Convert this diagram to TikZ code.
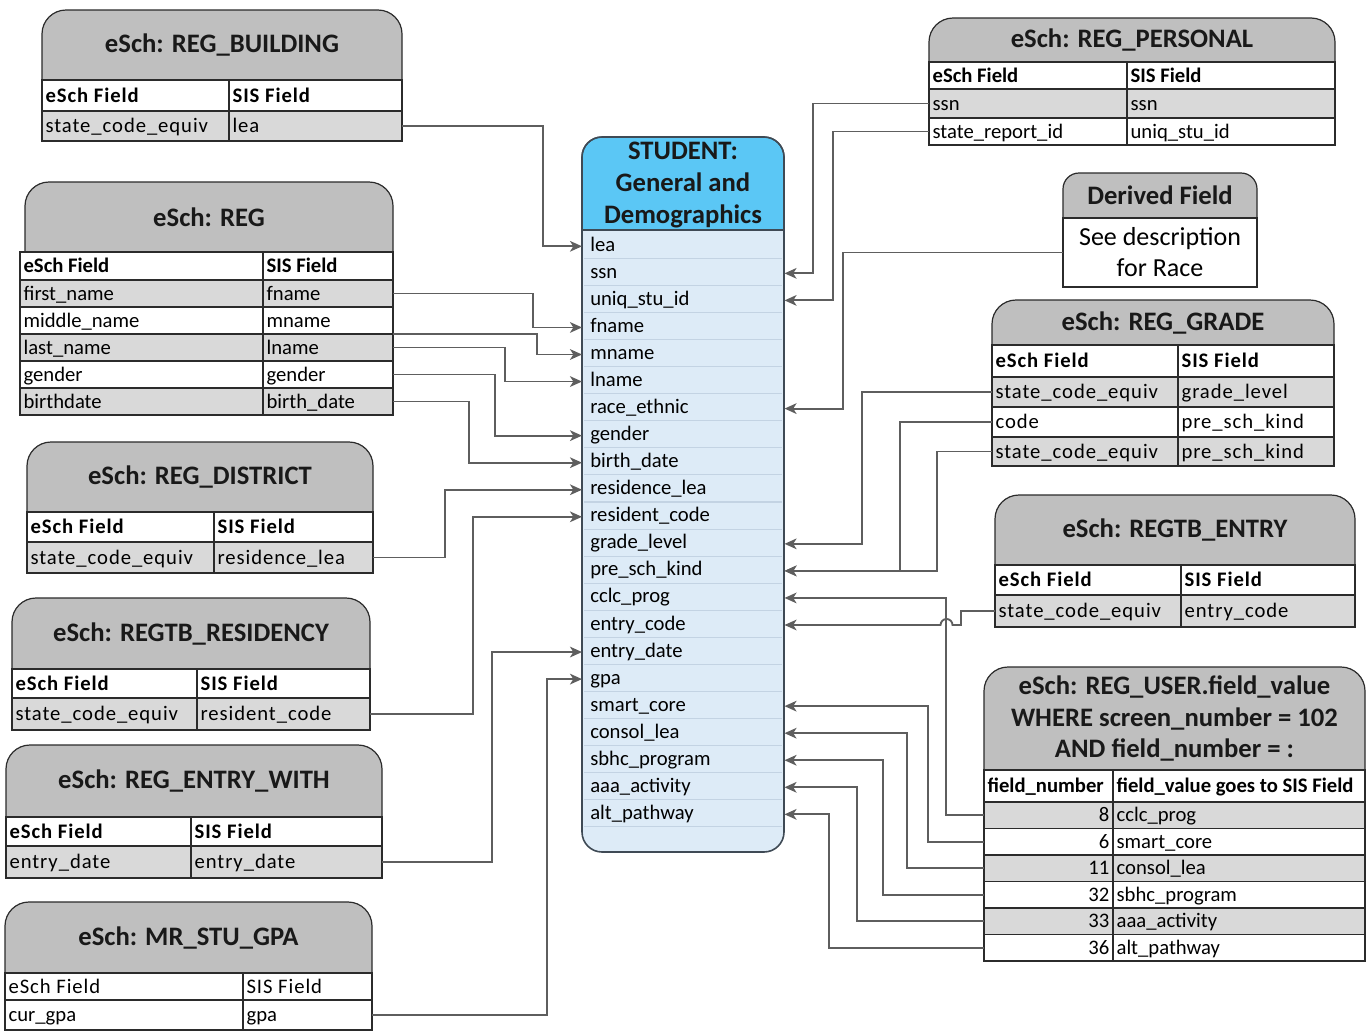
\documentclass[tikz,border=0pt]{standalone}
\usepackage{fontspec}
\setmainfont{Carlito}
\newfontfamily\cellfont{Carlito}[LetterSpace=4.5]
\usetikzlibrary{arrows.meta,calc}
\definecolor{hdrgray}{HTML}{BFBFBF}
\definecolor{rowgray}{HTML}{D9D9D9}
\definecolor{lineblk}{HTML}{2B2B2B}
\definecolor{conngray}{HTML}{5E5E5E}
\definecolor{stuhead}{HTML}{5BC7F5}
\definecolor{stubody}{HTML}{DDEBF7}
\definecolor{stusep}{HTML}{C3D3E3}
\definecolor{stuline}{HTML}{3F4A55}
\tikzset{
  tbox/.style={draw=lineblk, line width=0.9pt, inner sep=0pt, outer sep=0pt},
  ttext/.style={inner sep=0pt, text height=11pt, text depth=3.5pt},
  pn/.style={font=\fontsize{15.5}{18}\selectfont},
  pb/.style={font=\fontsize{15.5}{18}\selectfont\bfseries},
  sn/.style={font=\cellfont\fontsize{15.5}{18}\selectfont},
  sb/.style={font=\cellfont\fontsize{15.5}{18}\selectfont\bfseries},
  hdr/.style={fill=hdrgray, draw=lineblk, line width=0.9pt, rounded corners=18pt},
  htitle/.style={font=\fontsize{20}{23.5}\selectfont\bfseries, align=center, inner sep=0pt, text=black!90},
  conn/.style={draw=conngray, line width=1.4pt, -{Stealth[length=9pt,width=8pt,inset=2.5pt]}},
  rulethick/.style={draw=lineblk, line width=2.2pt},
  rulemid/.style={draw=lineblk, line width=1.6pt},
  fld/.style={anchor=north west, minimum height=20.29pt, text width=139.5pt, inner xsep=6pt, inner ysep=0pt, align=left, font=\fontsize{15.5}{18}\selectfont, text height=11pt, text depth=3.5pt},
}
\newcommand\tcell[8]{%
  \pgfmathsetmacro\cw{(#4-#2)*0.75}%
  \pgfmathsetmacro\ch{(#5-#3)*0.75}%
  \node[tbox, fill=#6, minimum width=\cw pt, minimum height=\ch pt, anchor=north west] (#1) at (#2,#3) {};
  \node[ttext, #7, anchor=west] (#1-t) at ([xshift=2.5pt,yshift=-1.2pt]#1.west) {#8};
}
\newcommand\tcellr[8]{%
  \pgfmathsetmacro\cw{(#4-#2)*0.75}%
  \pgfmathsetmacro\ch{(#5-#3)*0.75}%
  \node[tbox, fill=#6, minimum width=\cw pt, minimum height=\ch pt, anchor=north west] (#1) at (#2,#3) {};
  \node[ttext, #7, anchor=east] (#1-t) at ([xshift=-2.5pt,yshift=-1.2pt]#1.east) {#8};
}
\newcommand\thead[6]{%
  \filldraw[hdr] (#2,#5) -- (#2,#3) -- (#4,#3) -- (#4,#5);
  \node[htitle] (#1) at ({(#2+#4)/2},{(#3+#5)/2}) {#6};
}
\begin{document}
\begin{tikzpicture}[x=0.75pt,y=-0.75pt]
\useasboundingbox (0,0) rectangle (1367,1032);
\fill[white] (0,0) rectangle (1367,1032);

% ---------- STUDENT box ----------
\fill[stubody, rounded corners=15pt] (582,137) rectangle (784,852);
\filldraw[fill=stuhead, draw=stuline, line width=1pt, rounded corners=15pt] (582,230) -- (582,137) -- (784,137) -- (784,230);
\draw[stuline, line width=1pt] (582,230) -- (784,230);
\foreach \k in {1,...,22} \draw[stusep, line width=0.8pt] (584,{231.5+\k*27.05}) -- (782,{231.5+\k*27.05});
\node[htitle, font=\fontsize{20}{24}\selectfont\bfseries] (stu-title) at (683,185) {STUDENT:\\General and\\Demographics};
\foreach \nm/\tx [count=\i from 0] in {lea/lea, ssn/ssn, uniq/uniq\_stu\_id, fname/fname, mname/mname, lname/lname, race/race\_ethnic, gender/gender, birth/birth\_date, resl/residence\_lea, resc/resident\_code, grade/grade\_level, pre/pre\_sch\_kind, cclc/cclc\_prog, ecode/entry\_code, edate/entry\_date, gpa/gpa, smart/smart\_core, consol/consol\_lea, sbhc/sbhc\_program, aaa/aaa\_activity, alt/alt\_pathway}
  \node[fld] (s-\nm) at (582,{232.5+\i*27.05}) {\tx};
\draw[stuline, line width=1.2pt, rounded corners=15pt] (582,137) rectangle (784,852);

% ---------- REG_BUILDING ----------
\thead{bld}{42}{10}{402}{80}{eSch: REG\_BUILDING}
\tcell{bld-h1}{42}{80}{229}{111}{white}{sb}{eSch Field}
\tcell{bld-h2}{229}{80}{402}{111}{white}{sb}{SIS Field}
\tcell{bld-a1}{42}{111}{229}{141}{rowgray}{sn}{state\_code\_equiv}
\tcell{bld-a2}{229}{111}{402}{141}{rowgray}{sn}{lea}
\draw[rulethick] (bld-h1.south west) -- (bld-h2.south east);

% ---------- REG ----------
\thead{reg}{25}{182}{393}{252}{eSch: REG}
\tcell{reg-h1}{20}{252}{263}{280}{white}{pb}{eSch Field}
\tcell{reg-h2}{263}{252}{393}{280}{white}{pb}{SIS Field}
\tcell{reg-f1}{20}{280}{263}{307}{rowgray}{pn}{first\_name}
\tcell{reg-f2}{263}{280}{393}{307}{rowgray}{pn}{fname}
\tcell{reg-m1}{20}{307}{263}{334}{white}{pn}{middle\_name}
\tcell{reg-m2}{263}{307}{393}{334}{white}{pn}{mname}
\tcell{reg-l1}{20}{334}{263}{361}{rowgray}{pn}{last\_name}
\tcell{reg-l2}{263}{334}{393}{361}{rowgray}{pn}{lname}
\tcell{reg-g1}{20}{361}{263}{388}{white}{pn}{gender}
\tcell{reg-g2}{263}{361}{393}{388}{white}{pn}{gender}
\tcell{reg-b1}{20}{388}{263}{415}{rowgray}{pn}{birthdate}
\tcell{reg-b2}{263}{388}{393}{415}{rowgray}{pn}{birth\_date}
\draw[rulethick] (reg-h1.south west) -- (reg-h2.south east);
\draw[rulemid] (reg-l1.north west) -- (reg-l2.north east);

% ---------- REG_DISTRICT ----------
\thead{dst}{27}{442}{373}{512}{eSch: REG\_DISTRICT}
\tcell{dst-h1}{27}{512}{214}{542}{white}{sb}{eSch Field}
\tcell{dst-h2}{214}{512}{373}{542}{white}{sb}{SIS Field}
\tcell{dst-a1}{27}{542}{214}{573}{rowgray}{sn}{state\_code\_equiv}
\tcell{dst-a2}{214}{542}{373}{573}{rowgray}{sn}{residence\_lea}
\draw[rulethick] (dst-h1.south west) -- (dst-h2.south east);

% ---------- REGTB_RESIDENCY ----------
\thead{res}{12}{598}{370}{669}{eSch: REGTB\_RESIDENCY}
\tcell{res-h1}{12}{669}{197}{698}{white}{sb}{eSch Field}
\tcell{res-h2}{197}{669}{370}{698}{white}{sb}{SIS Field}
\tcell{res-a1}{12}{698}{197}{730}{rowgray}{sn}{state\_code\_equiv}
\tcell{res-a2}{197}{698}{370}{730}{rowgray}{sn}{resident\_code}
\draw[rulethick] (res-h1.south west) -- (res-h2.south east);

% ---------- REG_ENTRY_WITH ----------
\thead{ew}{6}{745}{382}{817}{eSch: REG\_ENTRY\_WITH}
\tcell{ew-h1}{6}{817}{191}{846}{white}{sb}{eSch Field}
\tcell{ew-h2}{191}{817}{382}{846}{white}{sb}{SIS Field}
\tcell{ew-a1}{6}{846}{191}{878}{rowgray}{sn}{entry\_date}
\tcell{ew-a2}{191}{846}{382}{878}{rowgray}{sn}{entry\_date}
\draw[rulethick] (ew-h1.south west) -- (ew-h2.south east);

% ---------- MR_STU_GPA ----------
\thead{gp}{5}{902}{372}{973}{eSch: MR\_STU\_GPA}
\tcell{gp-h1}{5}{973}{243}{1000}{white}{sn}{eSch Field}
\tcell{gp-h2}{243}{973}{372}{1000}{white}{sn}{SIS Field}
\tcell{gp-a1}{5}{1000}{243}{1030}{white}{pn}{cur\_gpa}
\tcell{gp-a2}{243}{1000}{372}{1030}{white}{pn}{gpa}

% ---------- REG_PERSONAL ----------
\thead{per}{929}{18}{1335}{62}{eSch: REG\_PERSONAL}
\tcell{per-h1}{929}{62}{1127}{89}{white}{pb}{eSch Field}
\tcell{per-h2}{1127}{62}{1335}{89}{white}{pb}{SIS Field}
\tcell{per-a1}{929}{89}{1127}{118}{rowgray}{pn}{ssn}
\tcell{per-a2}{1127}{89}{1335}{118}{rowgray}{pn}{ssn}
\tcell{per-b1}{929}{118}{1127}{145}{white}{pn}{state\_report\_id}
\tcell{per-b2}{1127}{118}{1335}{145}{white}{pn}{uniq\_stu\_id}
\draw[rulethick] (per-h1.south west) -- (per-h2.south east);

% ---------- Derived Field ----------
\filldraw[fill=hdrgray, draw=lineblk, line width=0.9pt, rounded corners=12pt] (1063,218) -- (1063,173) -- (1257,173) -- (1257,218);
\node[htitle] (dfh) at (1160,195) {Derived Field};
\node[tbox, fill=white, minimum width=145.5pt, minimum height=51.75pt, anchor=north west] (dfb) at (1063,218) {};
\node[font=\fontsize{19.5}{23.5}\selectfont, align=center, inner sep=0pt] (dfb-t) at (1160,252) {See description\\for Race};

% ---------- REG_GRADE ----------
\thead{grd}{992}{300}{1334}{345}{eSch: REG\_GRADE}
\tcell{grd-h1}{992}{345}{1178}{377}{white}{sb}{eSch Field}
\tcell{grd-h2}{1178}{345}{1334}{377}{white}{sb}{SIS Field}
\tcell{grd-a1}{992}{377}{1178}{407}{rowgray}{sn}{state\_code\_equiv}
\tcell{grd-a2}{1178}{377}{1334}{407}{rowgray}{sn}{grade\_level}
\tcell{grd-b1}{992}{407}{1178}{437}{white}{sn}{code}
\tcell{grd-b2}{1178}{407}{1334}{437}{white}{sn}{pre\_sch\_kind}
\tcell{grd-c1}{992}{437}{1178}{466}{rowgray}{sn}{state\_code\_equiv}
\tcell{grd-c2}{1178}{437}{1334}{466}{rowgray}{sn}{pre\_sch\_kind}
\draw[rulethick] (grd-h1.south west) -- (grd-h2.south east);
\draw[rulemid] (grd-b1.north west) -- (grd-b2.north east);

% ---------- REGTB_ENTRY ----------
\thead{ent}{995}{495}{1355}{565}{eSch: REGTB\_ENTRY}
\tcell{ent-h1}{995}{565}{1181}{595}{white}{sb}{eSch Field}
\tcell{ent-h2}{1181}{565}{1355}{595}{white}{sb}{SIS Field}
\tcell{ent-a1}{995}{595}{1181}{627}{rowgray}{sn}{state\_code\_equiv}
\tcell{ent-a2}{1181}{595}{1355}{627}{rowgray}{sn}{entry\_code}
\draw[rulethick] (ent-h1.south west) -- (ent-h2.south east);

% ---------- REG_USER ----------
\thead{usr}{984}{667}{1365}{770}{eSch: REG\_USER.field\_value\\WHERE screen\_number = 102\\AND field\_number = :}
\tcell{usr-h1}{984}{770}{1113}{802}{white}{pb}{field\_number}
\tcell{usr-h2}{1113}{770}{1365}{802}{white}{pb}{field\_value goes to SIS Field}
\tcellr{usr-a1}{984}{802}{1113}{828.5}{rowgray}{pn}{8}
\tcell{usr-a2}{1113}{802}{1365}{828.5}{rowgray}{pn}{cclc\_prog}
\tcellr{usr-b1}{984}{828.5}{1113}{855}{white}{pn}{6}
\tcell{usr-b2}{1113}{828.5}{1365}{855}{white}{pn}{smart\_core}
\tcellr{usr-c1}{984}{855}{1113}{881.5}{rowgray}{pn}{11}
\tcell{usr-c2}{1113}{855}{1365}{881.5}{rowgray}{pn}{consol\_lea}
\tcellr{usr-d1}{984}{881.5}{1113}{908}{white}{pn}{32}
\tcell{usr-d2}{1113}{881.5}{1365}{908}{white}{pn}{sbhc\_program}
\tcellr{usr-e1}{984}{908}{1113}{934.5}{rowgray}{pn}{33}
\tcell{usr-e2}{1113}{908}{1365}{934.5}{rowgray}{pn}{aaa\_activity}
\tcellr{usr-f1}{984}{934.5}{1113}{961}{white}{pn}{36}
\tcell{usr-f2}{1113}{934.5}{1365}{961}{white}{pn}{alt\_pathway}
\draw[rulethick] (usr-h1.south west) -- (usr-h2.south east);

% ---------- connectors: left ----------
\draw[conn] (bld-a2.east) -- ++(141,0) |- (s-lea.west);
\draw[conn] (reg-f2.east) -- ++(140,0) |- (s-fname.west);
\draw[conn] (reg-m2.south east) -- ++(144,0) |- (s-mname.west);
\draw[conn] (reg-l2.east) -- ++(112,0) |- (s-lname.west);
\draw[conn] (reg-g2.east) -- ++(102,0) |- (s-gender.west);
\draw[conn] (reg-b2.east) -- ++(76,0) |- (s-birth.west);
\draw[conn] (dst-a2.east) -- ++(72,0) |- (s-resl.west);
\draw[conn] (res-a2.east) -- ++(103,0) |- (s-resc.west);
\draw[conn] (ew-a2.east) -- ++(110,0) |- (s-edate.west);
\draw[conn] (gp-a2.east) -- ++(175,0) |- (s-gpa.west);

% ---------- connectors: right ----------
\draw[conn] (per-a1.west) -- ++(-116,0) |- (s-ssn.east);
\draw[conn] (per-b1.west) -- ++(-96,0) |- (s-uniq.east);
\draw[conn] (dfb.west) -- ++(-220,0) |- (s-race.east);
\draw[conn] (grd-a1.west) -- ++(-130,0) |- (s-grade.east);
\draw[conn] (grd-b1.west) -- ++(-92,0) |- (s-pre.east);
\draw[conn] (grd-c1.west) -- ++(-55,0) |- (s-pre.east);
\draw[conn] (usr-a1.west) -- ++(-38,0) |- (s-cclc.east);
\draw[conn] (ent-a1.west) -- ++(-34,0) |- ([xshift=126pt]s-ecode.east) arc[start angle=0, end angle=-180, radius=6] -- (s-ecode.east);
\draw[conn] (usr-b1.west) -- ++(-56,0) |- (s-smart.east);
\draw[conn] (usr-c1.west) -- ++(-77,0) |- (s-consol.east);
\draw[conn] (usr-d1.west) -- ++(-101,0) |- (s-sbhc.east);
\draw[conn] (usr-e1.west) -- ++(-127,0) |- (s-aaa.east);
\draw[conn] (usr-f1.west) -- ++(-155,0) |- (s-alt.east);
\end{tikzpicture}
\end{document}
